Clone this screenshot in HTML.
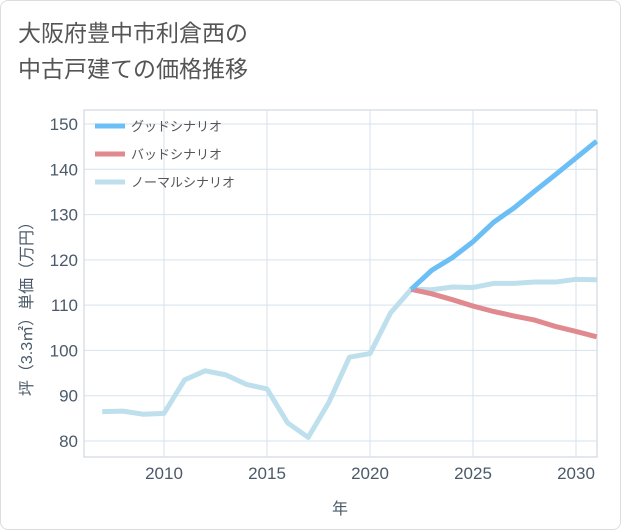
<!DOCTYPE html>
<html><head><meta charset="utf-8">
<style>
body{margin:0;background:#fff;}
#wrap{position:relative;width:619px;height:528px;border:1px solid #ddd;border-radius:8px;background:#fff;overflow:hidden;}
#title{position:absolute;left:17px;top:14px;font-family:"Liberation Sans","Noto Sans CJK JP",sans-serif;font-size:23px;line-height:36px;color:#555;}
svg text{font-family:"Liberation Sans","Noto Sans CJK JP",sans-serif;}
</style></head>
<body>
<div id="wrap">
<div id="title">大阪府豊中市利倉西の<br>中古戸建ての価格推移</div>
<svg id="chart" width="621" height="530" style="position:absolute;left:-1px;top:-1px"></svg>
</div>
<script>
const normalYears=[2007,2008,2009,2010,2011,2012,2013,2014,2015,2016,2017,2018,2019,2020,2021,2022,2023,2024,2025,2026,2027,2028,2029,2030,2031];
const normalVals=[86.5,86.6,85.9,86.1,93.5,95.5,94.6,92.5,91.5,84,80.8,88.5,98.5,99.3,108.3,113.5,113.4,114,113.9,114.8,114.8,115.1,115.1,115.7,115.6];
const futureYears=[2022,2023,2024,2025,2026,2027,2028,2029,2030,2031];
const goodVals=[113.5,117.7,120.5,124,128.3,131.5,135.2,138.8,142.5,146.2];
const badVals=[113.5,112.5,111.2,109.8,108.6,107.6,106.7,105.3,104.2,103];
const xTicks=[2010,2015,2020,2025,2030];
const yTicks=[80,90,100,110,120,130,140,150];
const legendLabels=["グッドシナリオ","バッドシナリオ","ノーマルシナリオ"];

const svg=document.getElementById('chart');
const NS='http://www.w3.org/2000/svg';
const L=84,R=597,T=110,B=457;
const x=y=>164+(y-2010)*(576-164)/20;
const yS=v=>441-(v-80)*(441-124)/70;
function mk(t,a){const e=document.createElementNS(NS,t);for(const k in a)e.setAttribute(k,a[k]);svg.appendChild(e);return e;}
const bg=mk('rect',{x:L,y:T,width:R-L,height:B-T,fill:'#fff',stroke:'#c8d0d8'});


xTicks.forEach(t=>{
 const g=mk('line',{x1:x(t),x2:x(t),y1:T,y2:B,stroke:'#d6e2ec'});
 
 
 const l=mk('text',{x:x(t),y:479,'text-anchor':'middle','font-size':17,fill:'#4a5a6a'});l.textContent=t;
 
 
});
yTicks.forEach(t=>{
 const g=mk('line',{x1:L,x2:R,y1:yS(t),y2:yS(t),stroke:'#d6e2ec'});
 
 
 const l=mk('text',{x:78,y:yS(t)+6,'text-anchor':'end','font-size':17,fill:'#4a5a6a'});l.textContent=t;
 
 
});
const xt=mk('text',{x:340,y:514,'text-anchor':'middle','font-size':16,fill:'#4a5a6a'});xt.textContent='年';


const yt=mk('text',{x:0,y:0,'text-anchor':'middle','font-size':16,fill:'#4a5a6a',transform:'translate(32,305) rotate(-90)'});yt.textContent='坪（3.3㎡）単価（万円）';


function line(xs,vs,c,n){
 const p=mk('polyline',{points:xs.map((t,i)=>x(t)+','+yS(vs[i])).join(' '),fill:'none',stroke:c,'stroke-width':5,'stroke-linejoin':'round'});
 
 
}
const colors=['#6bbff5','#e08a8f','#bde0ec'];
line(normalYears,normalVals,colors[2],'normal-line');
line(futureYears,badVals,colors[1],'bad-line');
line(futureYears,goodVals,colors[0],'good-line');
legendLabels.forEach((s,i)=>{
 const yy=126+i*28;
 const m=mk('line',{x1:95,x2:125,y1:yy,y2:yy,stroke:colors[i],'stroke-width':5});
 
 
 const t=mk('text',{x:131,y:yy+5,'font-size':13,fill:'#555'});t.textContent=s;
 
 
});
</script>
</body></html>
